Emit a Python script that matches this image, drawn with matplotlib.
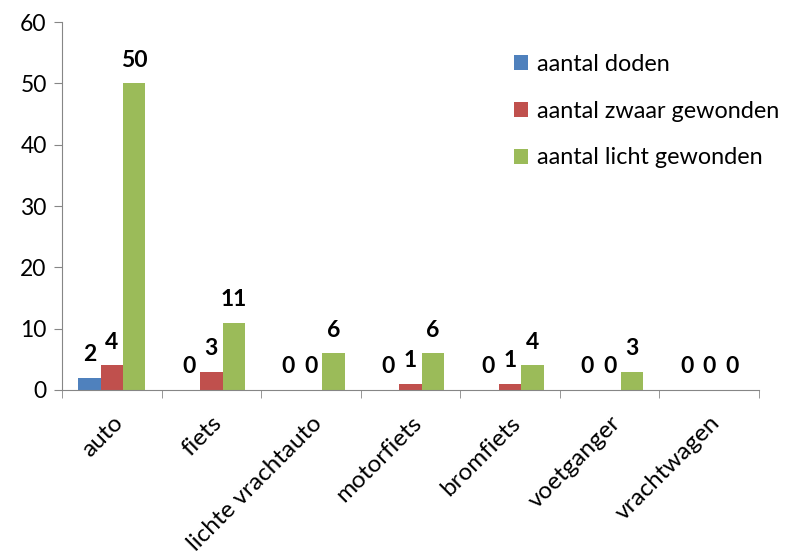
import matplotlib
matplotlib.use('Agg')
import matplotlib.pyplot as plt
import numpy as np

categories = ["auto", "fiets", "lichte vrachtauto", "motorfiets",
              "bromfiets", "voetganger", "vrachtwagen"]
doden = [2, 0, 0, 0, 0, 0, 0]
zwaar = [4, 3, 0, 1, 1, 0, 0]
licht = [50, 11, 6, 6, 4, 3, 0]

series = [
    ("aantal doden", doden, "#4F81BD"),
    ("aantal zwaar gewonden", zwaar, "#C0504D"),
    ("aantal licht gewonden", licht, "#9BBB59"),
]

plt.rcParams['font.family'] = ['Lato', 'DejaVu Sans']

fig = plt.figure(figsize=(7.97, 5.51), dpi=100)
ax = fig.add_axes([0.0778, 0.2922, 0.8745, 0.6678])

x = np.arange(len(categories))
width = 0.225
for i, (name, vals, color) in enumerate(series):
    pos = x + (i - 1) * width
    ax.bar(pos, vals, width, color=color, label=name)
    for xp, v in zip(pos, vals):
        ax.annotate(str(v), xy=(xp, v), xytext=(0, 9), textcoords="offset points",
                    ha='center', va='bottom', fontsize=16.5, fontweight='bold')

ax.set_xlim(-0.5, len(categories) - 0.5)
ax.set_ylim(0, 60)
ax.set_yticks(range(0, 61, 10))
ax.tick_params(axis='y', labelsize=16.5, length=6, color='#868686', pad=5)

ax.set_xticks(x)
ax.set_xticklabels(categories, rotation=45, ha='right', rotation_mode='anchor', fontsize=17.5)
ax.tick_params(axis='x', which='major', length=0, pad=16)
ax.set_xticks(np.arange(-0.5, len(categories)), minor=True)
ax.tick_params(axis='x', which='minor', length=6, color='#868686')

for s in ['top', 'right']:
    ax.spines[s].set_visible(False)
for s in ['left', 'bottom']:
    ax.spines[s].set_color('#868686')

ax.legend(loc='upper left', bbox_to_anchor=(0.6185, 0.97), frameon=False, fontsize=16.8,
          handlelength=0.6, handleheight=0.6, handletextpad=0.4, labelspacing=1.1)

fig.savefig('out.png', dpi=100, facecolor='white')
